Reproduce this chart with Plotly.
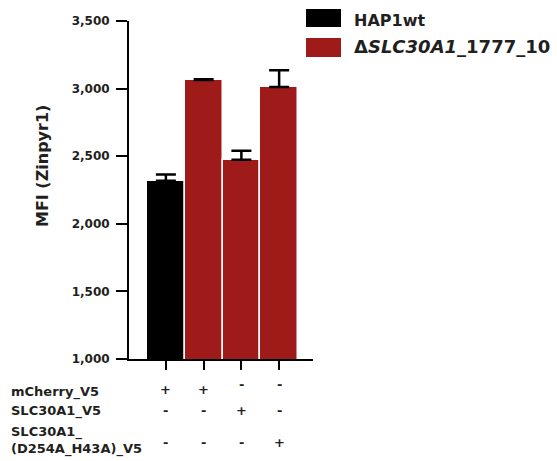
import plotly.graph_objects as go

# ---------------- data ----------------
conditions = ["wt_mCherry", "KO_mCherry", "KO_SLC30A1", "KO_SLC30A1_mut"]
series_names = ["HAP1wt", "Δ<i>SLC30A1</i>_1777_10"]
wt_x = ["wt_mCherry"]
wt_mfi = [2318]
wt_sd = [46]
ko_x = ["KO_mCherry", "KO_SLC30A1", "KO_SLC30A1_mut"]
ko_mfi = [3063, 2473, 3011]
ko_sd = [6, 68, 125]

y_ticks = [1000, 1500, 2000, 2500, 3000, 3500]
y_tick_labels = ["1,000", "1,500", "2,000", "2,500", "3,000", "3,500"]
y_title = "MFI (Zinpyr1)"

row_labels = ["mCherry_V5", "SLC30A1_V5", "SLC30A1_<br>(D254A_H43A)_V5"]
row_signs = [
    ["+", "+", "-", "-"],
    ["-", "-", "+", "-"],
    ["-", "-", "-", "+"],
]

# ---------------- style ----------------
BLACK = "#000000"
RED = "#9e1b19"
TXT = "#231f20"
FONT = "DejaVu Sans"

W_PX, H_PX = 557, 461
L, T, PW, PH = 129, 21, 184, 338


def px_x(px):
    return (px - L) / PW


def px_y(py):
    return (T + PH - py) / PH


fig = go.Figure()
fig.add_trace(go.Bar(
    x=wt_x, y=wt_mfi, name=series_names[0],
    marker=dict(color=BLACK, line=dict(color="white", width=1.5)),
    error_y=dict(type="data", array=wt_sd, arrayminus=[0] * len(wt_sd), symmetric=False,
                 color=BLACK, thickness=2.5, width=10),
    width=1, showlegend=False,
))
fig.add_trace(go.Bar(
    x=ko_x, y=ko_mfi, name=series_names[1],
    marker=dict(color=RED, line=dict(color="white", width=1.5)),
    error_y=dict(type="data", array=ko_sd, arrayminus=[0] * len(ko_sd), symmetric=False,
                 color=BLACK, thickness=2.5, width=10),
    width=1, showlegend=False,
))

annotations = []
shapes = []

# y-axis title
annotations.append(dict(
    text=y_title, xref="paper", yref="paper", x=px_x(42), y=px_y(166),
    xanchor="center", yanchor="middle", textangle=-90, showarrow=False,
    font=dict(family=FONT, size=16, color=TXT, weight="bold"),
))

# legend (drawn manually)
legend_colors = [BLACK, RED]
legend_rows = [(9, 27, 20, 16), (38, 57, 46, 18)]
for name, col, (y0, y1, yc, fs) in zip(series_names, legend_colors, legend_rows):
    shapes.append(dict(type="rect", xref="paper", yref="paper",
                       x0=px_x(306), x1=px_x(341), y0=px_y(y1), y1=px_y(y0),
                       fillcolor=col, line=dict(width=0)))
    annotations.append(dict(
        text=name, xref="paper", yref="paper", x=px_x(352), y=px_y(yc),
        xanchor="left", yanchor="middle", showarrow=False,
        font=dict(family=FONT, size=fs, color=TXT, weight="bold"),
    ))

# condition table below the axis
label_y = [392, 411, 440]
sign_y = [389, 410, 442]
for r, (lab, signs) in enumerate(zip(row_labels, row_signs)):
    annotations.append(dict(
        text=lab, xref="paper", yref="paper", x=px_x(9), y=px_y(label_y[r]),
        xanchor="left", yanchor="middle", align="left", showarrow=False,
        font=dict(family=FONT, size=13, color=TXT, weight="bold"),
    ))
    for c, s in enumerate(signs):
        yy = sign_y[r]
        if r == 0 and s == "-":
            yy -= 5
        annotations.append(dict(
            text=s, xref="x", yref="paper", x=conditions[c], y=px_y(yy),
            xanchor="center", yanchor="middle", showarrow=False,
            font=dict(family=FONT, size=13, color=TXT, weight="bold"),
        ))

fig.update_layout(
    width=W_PX, height=H_PX,
    margin=dict(l=L, r=W_PX - L - PW, t=T, b=H_PX - T - PH, pad=0),
    paper_bgcolor="white", plot_bgcolor="white",
    barmode="overlay", bargap=0,
    showlegend=False,
    annotations=annotations, shapes=shapes,
    font=dict(family=FONT, color=TXT),
    xaxis=dict(
        type="category", categoryorder="array", categoryarray=conditions,
        range=[-0.977, 3.897], showticklabels=False,
        showline=True, linecolor=BLACK, linewidth=2,
        ticks="outside", ticklen=9, tickwidth=2, tickcolor=BLACK,
        showgrid=False, zeroline=False, fixedrange=True,
    ),
    yaxis=dict(
        range=[1000, 3500], tickvals=y_ticks, ticktext=y_tick_labels,
        showline=True, linecolor=BLACK, linewidth=2,
        ticks="outside", ticklen=11, tickwidth=2, tickcolor=BLACK,
        ticklabelstandoff=4,
        tickfont=dict(family=FONT, size=12, color=TXT, weight="bold"),
        showgrid=False, zeroline=False, fixedrange=True,
    ),
)

fig.write_html("out.html", config={"displayModeBar": False})
